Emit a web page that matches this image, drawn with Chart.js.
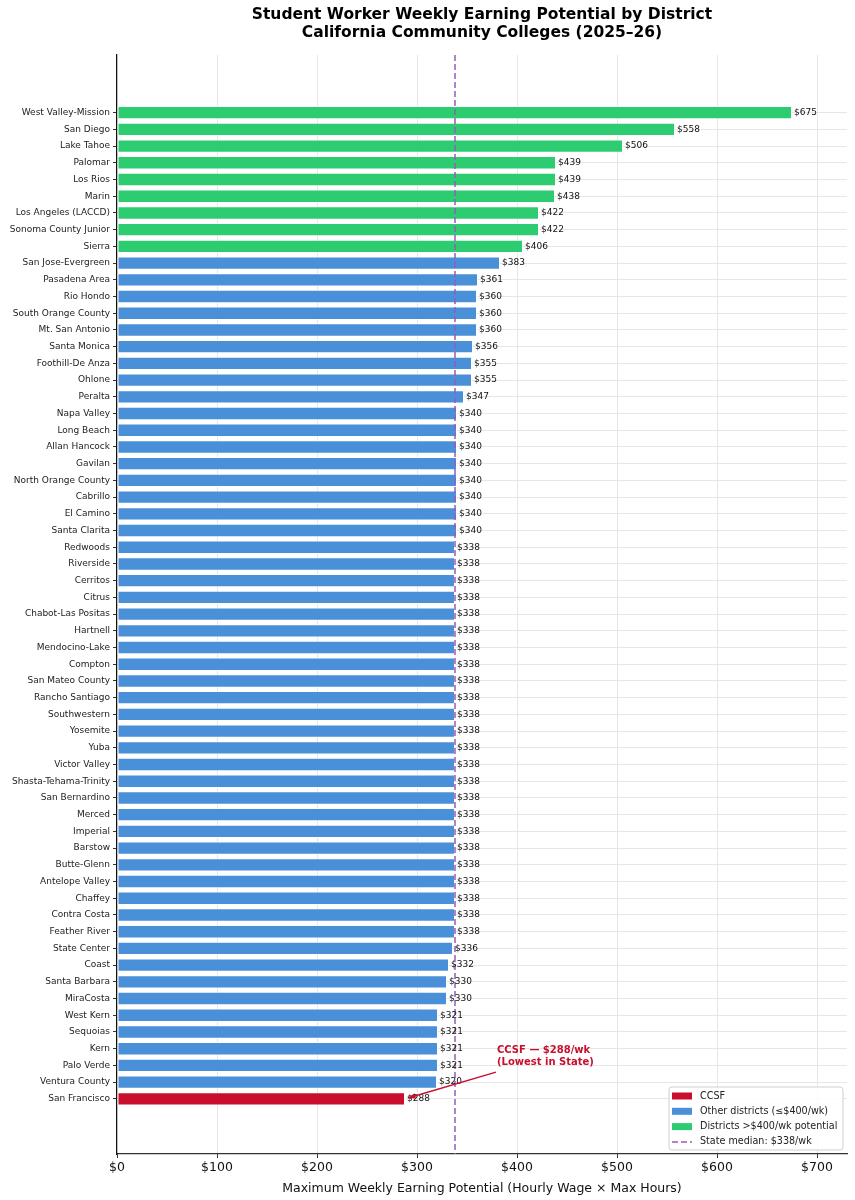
<title>Student Worker Weekly Earning Potential</title>
<meta charset="UTF-8">
<body style="margin:0; background:#fff">
<script src="https://cdn.jsdelivr.net/npm/chart.js@4.4.1/dist/chart.umd.min.js"></script>
<canvas id="chart1" width="855" height="1200"></canvas>
<script>
// districts, top to bottom
var districts = ["West Valley-Mission", "San Diego", "Lake Tahoe", "Palomar", "Los Rios", "Marin",
  "Los Angeles (LACCD)", "Sonoma County Junior", "Sierra", "San Jose-Evergreen", "Pasadena Area",
  "Rio Hondo", "South Orange County", "Mt. San Antonio", "Santa Monica", "Foothill-De Anza", "Ohlone",
  "Peralta", "Napa Valley", "Long Beach", "Allan Hancock", "Gavilan", "North Orange County", "Cabrillo",
  "El Camino", "Santa Clarita", "Redwoods", "Riverside", "Cerritos", "Citrus", "Chabot-Las Positas",
  "Hartnell", "Mendocino-Lake", "Compton", "San Mateo County", "Rancho Santiago", "Southwestern",
  "Yosemite", "Yuba", "Victor Valley", "Shasta-Tehama-Trinity", "San Bernardino", "Merced", "Imperial",
  "Barstow", "Butte-Glenn", "Antelope Valley", "Chaffey", "Contra Costa", "Feather River",
  "State Center", "Coast", "Santa Barbara", "MiraCosta", "West Kern", "Sequoias", "Kern", "Palo Verde",
  "Ventura County", "San Francisco"];
var weekly = [675, 558, 506, 439, 439, 438, 422, 422, 406, 383, 361, 360, 360, 360, 356, 355, 355,
  347, 340, 340, 340, 340, 340, 340, 340, 340, 338, 338, 338, 338, 338, 338, 338, 338, 338, 338, 338,
  338, 338, 338, 338, 338, 338, 338, 338, 338, 338, 338, 338, 338, 336, 332, 330, 330, 321, 321, 321,
  321, 320, 288];
var xTicks = [0, 100, 200, 300, 400, 500, 600, 700];
var median = 338;
var ccsf = "San Francisco";
var legendLabels = ["CCSF", "Other districts (\u2264$400/wk)", "Districts >$400/wk potential", "State median: $338/wk"];

var RED = "#c8102e", BLUE = "#4a90d9", GREEN = "#2ecc71", PURPLE = "#9b59b6";
var FONT = "'DejaVu Sans', sans-serif";

var colors = districts.map(function(d, i) {
  if (d == ccsf) return RED;
  return weekly[i] > 400 ? GREEN : BLUE;
});

var extras = {
  id: "extras",
  afterDatasetsDraw: function(chart) {
    var ctx = chart.ctx, x = chart.scales.x, y = chart.scales.y, a = chart.chartArea;
    ctx.save();
    // median line
    ctx.strokeStyle = PURPLE;
    ctx.lineWidth = 1.5;
    ctx.setLineDash([6, 3]);
    ctx.beginPath();
    ctx.moveTo(x.getPixelForValue(median), a.top);
    ctx.lineTo(x.getPixelForValue(median), a.bottom);
    ctx.stroke();
    ctx.setLineDash([]);
    // value labels
    ctx.font = "9px " + FONT;
    ctx.fillStyle = "#111";
    ctx.textBaseline = "middle";
    ctx.textAlign = "left";
    weekly.forEach(function(v, i) {
      ctx.fillText("$" + v, x.getPixelForValue(v) + 2, y.getPixelForValue(i));
    });
    // annotation
    var iC = districts.indexOf(ccsf);
    var tx = x.getPixelForValue(379), ty = y.getPixelForValue(iC - 1.6);
    var hx = x.getPixelForValue(weekly[iC] + 3), hy = y.getPixelForValue(iC - 0.05);
    ctx.strokeStyle = RED; ctx.fillStyle = RED; ctx.lineWidth = 1.5;
    ctx.beginPath(); ctx.moveTo(tx, ty); ctx.lineTo(hx, hy); ctx.stroke();
    var ang = Math.atan2(hy - ty, hx - tx);
    ctx.beginPath();
    ctx.moveTo(hx, hy);
    ctx.lineTo(hx - 8 * Math.cos(ang - 0.35), hy - 8 * Math.sin(ang - 0.35));
    ctx.lineTo(hx - 8 * Math.cos(ang + 0.35), hy - 8 * Math.sin(ang + 0.35));
    ctx.closePath(); ctx.fill();
    ctx.font = "bold 10px " + FONT;
    ctx.fillText("CCSF \u2014 $288/wk", x.getPixelForValue(380), y.getPixelForValue(iC - 2.9));
    ctx.fillText("(Lowest in State)", x.getPixelForValue(380), y.getPixelForValue(iC - 2.2));
    // legend
    var lw = 174, lh = 63, lx = a.right - lw - 4, ly = a.bottom - lh - 4;
    ctx.fillStyle = "rgba(255,255,255,0.85)";
    ctx.strokeStyle = "#d0d0d0"; ctx.lineWidth = 1;
    ctx.beginPath(); ctx.roundRect(lx, ly, lw, lh, 3); ctx.fill(); ctx.stroke();
    ctx.font = "9.6px " + FONT;
    ctx.textBaseline = "middle";
    var sw = [RED, BLUE, GREEN];
    legendLabels.forEach(function(t, k) {
      var cy = ly + 9 + k * 15.3;
      if (k < 3) {
        ctx.fillStyle = sw[k];
        ctx.fillRect(lx + 3, cy - 3.5, 20, 7);
      } else {
        ctx.strokeStyle = PURPLE; ctx.lineWidth = 1.5; ctx.setLineDash([6, 3]);
        ctx.beginPath(); ctx.moveTo(lx + 3, cy); ctx.lineTo(lx + 23, cy); ctx.stroke();
        ctx.setLineDash([]);
      }
      ctx.fillStyle = "#222";
      ctx.fillText(t, lx + 31, cy);
    });
    // title
    ctx.fillStyle = "#000";
    ctx.textAlign = "center";
    ctx.font = "bold 15.5px " + FONT;
    var cx = (a.left + a.right) / 2;
    ctx.fillText("Student Worker Weekly Earning Potential by District", cx, 15);
    ctx.fillText("California Community Colleges (2025\u201326)", cx, 33);
    ctx.restore();
  }
};

new Chart("chart1", {
  type: "bar",
  data: {
    datasets: [{
      data: weekly.map(function(v, i) { return {x: v, y: i}; }),
      backgroundColor: colors,
      borderColor: "rgba(255,255,255,0.7)",
      borderWidth: 1,
      borderSkipped: false,
      barPercentage: 0.8,
      categoryPercentage: 1
    }]
  },
  options: {
    indexAxis: "y",
    responsive: false,
    animation: false,
    layout: {padding: {top: 55, right: 8, left: 0, bottom: 0}},
    plugins: {legend: {display: false}, tooltip: {enabled: false}},
    scales: {
      x: {
        type: "linear", min: 0, max: 730,
        afterBuildTicks: function(s) { s.ticks = xTicks.map(function(v) { return {value: v}; }); },
        afterFit: function(s) { s.height = 46; },
        ticks: {callback: function(v) { return "$" + v; }, color: "#111", font: {family: FONT, size: 12.5}, padding: 2},
        grid: {color: "#e6e6e6", tickColor: "#333", tickLength: 4},
        border: {color: "#333", width: 1.2},
        title: {display: true, text: "Maximum Weekly Earning Potential (Hourly Wage \u00d7 Max Hours)",
          color: "#111", font: {family: FONT, size: 12.5}, padding: {top: 0}}
      },
      y: {
        type: "linear", min: -3.45, max: districts.length - 1 + 3.3, reverse: true, offset: false,
        afterBuildTicks: function(s) { s.ticks = districts.map(function(d, i) { return {value: i}; }); },
        afterFit: function(s) { s.width = 117; },
        ticks: {callback: function(v) { return districts[v]; }, autoSkip: false, color: "#222",
          font: {family: FONT, size: 9}, padding: 3},
        grid: {color: "#e6e6e6", tickColor: "#333", tickLength: 4, offset: false},
        border: {color: "#111", width: 1.2}
      }
    }
  },
  plugins: [extras]
});
</script>
